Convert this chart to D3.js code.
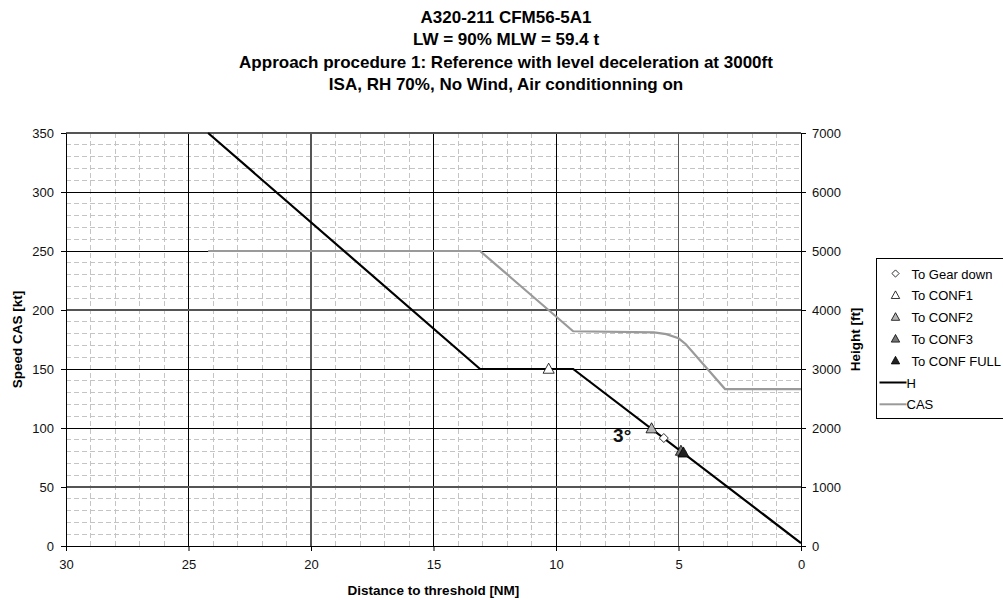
<!DOCTYPE html>
<html>
<head>
<meta charset="utf-8">
<script src="https://cdn.jsdelivr.net/npm/d3@7"></script>
<style>
  body { margin: 0; background: #fff; }
  svg { font-family: "Liberation Sans", Arial, sans-serif; }
  .tick text { font-size: 13px; fill: #111; }
</style>
</head>
<body>
<div id="chart"></div>
<script>
// Title lines
const titleLines = [
  "A320-211 CFM56-5A1",
  "LW = 90% MLW = 59.4 t",
  "Approach procedure 1: Reference with level deceleration at 3000ft",
  "ISA, RH 70%, No Wind, Air conditionning on"
];

// Height profile (distance NM, height ft)
const hDist = [24.2, 13.1, 9.3, 0];
const hFt = [7000, 3000, 3000, 50];

// CAS profile (distance NM, speed kt)
const casDist = [24.2, 13.1, 9.3, 6.0, 5.5, 5.0, 4.7, 3.1, 0];
const casKt = [250, 250, 182, 181, 179.5, 176, 171, 133, 133];

// configuration change markers, sitting on the height profile
const markerNames = ["To Gear down", "To CONF1", "To CONF2", "To CONF3", "To CONF FULL"];
const markerDist = [5.6, 10.3, 6.1, 4.9, 4.8];
const markerFt = [1830, 3000, 1990, 1610, 1580];

const xTicks = [30, 25, 20, 15, 10, 5, 0];
const yLeftTicks = [0, 50, 100, 150, 200, 250, 300, 350];
const yRightTicks = [0, 1000, 2000, 3000, 4000, 5000, 6000, 7000];

const svgWidth = 1003;
const svgHeight = 600;
const margin = { top: 133, left: 66 };
const width = 735;
const height = 413;

const svg = d3.select("#chart")
  .append("svg")
  .attr("width", svgWidth)
  .attr("height", svgHeight);

// title
svg.append("g")
  .selectAll("text")
  .data(titleLines)
  .enter()
  .append("text")
  .attr("x", 506)
  .attr("y", (d, i) => 23 + i * 22.3)
  .attr("text-anchor", "middle")
  .style("font-size", "17px")
  .style("font-weight", "bold")
  .text(d => d);

const chartGroup = svg.append("g")
  .attr("transform", `translate(${margin.left}, ${margin.top})`);

// scales
const xScale = d3.scaleLinear().domain([30, 0]).range([0, width]);
const yLeft = d3.scaleLinear().domain([0, 350]).range([height, 0]);
const yRight = d3.scaleLinear().domain([0, 7000]).range([height, 0]);

// minor dashed grid
const grid = chartGroup.append("g").attr("shape-rendering", "crispEdges");
grid.selectAll("line.vmin")
  .data(d3.range(1, 30).filter(d => d % 5 !== 0))
  .enter().append("line")
  .attr("x1", d => xScale(d)).attr("x2", d => xScale(d))
  .attr("y1", 0).attr("y2", height)
  .attr("stroke", "#c4c4c4")
  .attr("stroke-dasharray", "5,3");
grid.selectAll("line.hmin")
  .data(d3.range(10, 350, 10).filter(d => d % 50 !== 0))
  .enter().append("line")
  .attr("x1", 0).attr("x2", width)
  .attr("y1", d => yLeft(d)).attr("y2", d => yLeft(d))
  .attr("stroke", "#c4c4c4")
  .attr("stroke-dasharray", "5,3");

// major grid
const softX = [20, 5];
const softY = [350, 200, 50];
grid.selectAll("line.vmaj")
  .data(xTicks.filter(d => d !== 30 && d !== 0))
  .enter().append("line")
  .attr("x1", d => xScale(d)).attr("x2", d => xScale(d))
  .attr("y1", 0).attr("y2", height)
  .attr("stroke", d => softX.includes(d) ? "#555" : "#000")
  .attr("stroke-width", d => softX.includes(d) ? 1.6 : 1);
grid.selectAll("line.hmaj")
  .data(yLeftTicks.filter(d => d !== 0))
  .enter().append("line")
  .attr("x1", 0).attr("x2", width)
  .attr("y1", d => yLeft(d)).attr("y2", d => yLeft(d))
  .attr("stroke", d => softY.includes(d) ? "#555" : "#000")
  .attr("stroke-width", d => softY.includes(d) ? 1.6 : 1);

// axes
const bottomAxis = d3.axisBottom(xScale).tickValues(xTicks).tickSize(5).tickPadding(9).tickSizeOuter(0);
const leftAxis = d3.axisLeft(yLeft).tickValues(yLeftTicks).tickSize(5).tickPadding(7).tickSizeOuter(0);
const rightAxis = d3.axisRight(yRight).tickValues(yRightTicks).tickFormat(d3.format("d"))
  .tickSize(5).tickPadding(6).tickSizeOuter(0);

chartGroup.append("g")
  .attr("transform", `translate(0, ${height})`)
  .call(bottomAxis);
chartGroup.append("g").call(leftAxis);
chartGroup.append("g")
  .attr("transform", `translate(${width}, 0)`)
  .call(rightAxis);
chartGroup.selectAll(".domain").attr("stroke", "#000");
chartGroup.selectAll(".tick line").attr("stroke", "#000");

// axis titles
chartGroup.append("text")
  .attr("x", width / 2)
  .attr("y", height + 49)
  .attr("text-anchor", "middle")
  .style("font-size", "13.5px")
  .style("font-weight", "bold")
  .text("Distance to threshold [NM]");
chartGroup.append("text")
  .attr("transform", "rotate(-90)")
  .attr("x", -height / 2)
  .attr("y", -44)
  .attr("text-anchor", "middle")
  .style("font-size", "13.5px")
  .style("font-weight", "bold")
  .text("Speed CAS [kt]");
chartGroup.append("text")
  .attr("transform", "rotate(-90)")
  .attr("x", -height / 2)
  .attr("y", width + 59)
  .attr("text-anchor", "middle")
  .style("font-size", "13.5px")
  .style("font-weight", "bold")
  .text("Height [ft]");

// lines
const casLine = d3.line()
  .x((d, i) => xScale(casDist[i]))
  .y(d => yLeft(d));
chartGroup.append("path")
  .attr("d", casLine(casKt))
  .attr("fill", "none")
  .attr("stroke", "#9a9a9a")
  .attr("stroke-width", 2.2);

const hLine = d3.line()
  .x((d, i) => xScale(hDist[i]))
  .y(d => yRight(d));
chartGroup.append("path")
  .attr("d", hLine(hFt))
  .attr("fill", "none")
  .attr("stroke", "#000")
  .attr("stroke-width", 2.2);

// marker shapes
const markerFill = ["#fff", "#fff", "#b4b4b4", "#777", "#222"];
function markerPath(i, s) {
  if (i === 0) {
    return `M0,${-s}L${s},0L0,${s}L${-s},0Z`;
  }
  return `M0,${-s * 1.1}L${s * 1.05},${s * 0.8}L${-s * 1.05},${s * 0.8}Z`;
}

chartGroup.selectAll("path.marker")
  .data(markerNames)
  .enter()
  .append("path")
  .attr("transform", (d, i) => `translate(${xScale(markerDist[i])}, ${yRight(markerFt[i])})`)
  .attr("d", (d, i) => markerPath(i, i === 0 ? 4.5 : 5.3))
  .attr("fill", (d, i) => markerFill[i])
  .attr("stroke", "#000")
  .attr("stroke-width", 0.8);

// glide slope annotation
chartGroup.append("text")
  .attr("x", xScale(7.3))
  .attr("y", yLeft(88))
  .attr("text-anchor", "middle")
  .style("font-size", "19px")
  .style("font-weight", "bold")
  .style("fill", "#111")
  .text("3°");

// legend
const legend = svg.append("g")
  .attr("transform", "translate(876.5, 258.5)");
legend.append("rect")
  .attr("width", 140)
  .attr("height", 160)
  .attr("fill", "#fff")
  .attr("stroke", "#000");

const legendItems = legend.selectAll("g.item")
  .data(markerNames.concat(["H", "CAS"]))
  .enter()
  .append("g")
  .attr("transform", (d, i) => `translate(0, ${15 + i * 21.8})`);

legendItems.filter((d, i) => i < 5)
  .append("path")
  .attr("transform", "translate(19, 0)")
  .attr("d", (d, i) => markerPath(i, i === 0 ? 3.6 : 4))
  .attr("fill", (d, i) => markerFill[i])
  .attr("stroke", "#000")
  .attr("stroke-width", 0.8);

legendItems.filter((d, i) => i < 5)
  .append("text")
  .attr("x", 35)
  .attr("y", 5)
  .style("font-size", "13px")
  .text(d => d);

legendItems.filter((d, i) => i >= 5)
  .append("line")
  .attr("x1", 3).attr("x2", 30)
  .attr("stroke", (d) => d === "H" ? "#000" : "#9a9a9a")
  .attr("stroke-width", 2);

legendItems.filter((d, i) => i >= 5)
  .append("text")
  .attr("x", 30)
  .attr("y", 5)
  .style("font-size", "13px")
  .text(d => d);
</script>
</body>
</html>
